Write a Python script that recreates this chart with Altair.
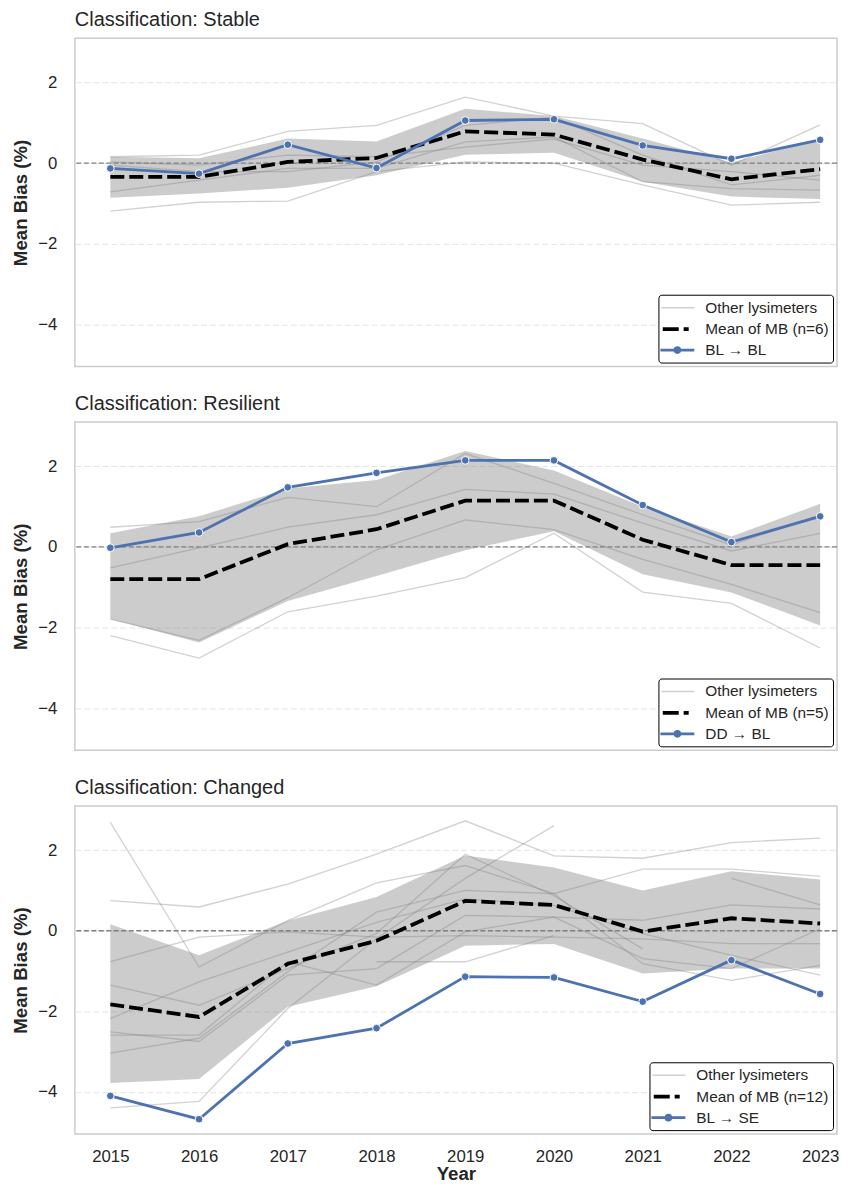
import altair as alt
import pandas as pd

years = [2015, 2016, 2017, 2018, 2019, 2020, 2021, 2022, 2023]

# ---- Stable ----
stable_focus = [-0.13, -0.26, 0.46, -0.12, 1.06, 1.09, 0.44, 0.11, 0.58]
stable_mean = [-0.34, -0.34, 0.03, 0.13, 0.79, 0.71, 0.09, -0.40, -0.15]
stable_lo = [-0.86, -0.75, -0.61, -0.30, 0.21, 0.26, -0.46, -0.83, -0.89]
stable_hi = [0.16, 0.12, 0.61, 0.54, 1.35, 1.17, 0.61, 0.02, 0.59]
stable_others = [
    [0.16, 0.20, 0.79, 0.94, 1.64, 1.17, 0.98, -0.05, 0.95],
    [-1.19, -0.97, -0.94, -0.21, 0.03, 0.00, -0.54, -1.04, -0.97],
    [-0.71, -0.42, -0.13, -0.13, 0.53, 0.65, -0.46, -0.63, -0.67],
    [0.03, -0.05, 0.20, 0.16, 0.40, 0.60, -0.05, -0.21, -0.42],
    [-0.05, -0.21, -0.21, 0.03, 0.94, 1.14, 0.20, -0.54, -0.30],
]

# ---- Resilient ----
resil_focus = [-0.02, 0.36, 1.48, 1.84, 2.15, 2.15, 1.04, 0.12, 0.76]
resil_mean = [-0.80, -0.80, 0.07, 0.44, 1.15, 1.15, 0.18, -0.45, -0.45]
resil_lo = [-1.79, -2.37, -1.34, -0.72, -0.08, 0.39, -0.68, -1.13, -1.95]
resil_hi = [0.34, 0.76, 1.45, 1.66, 2.38, 1.90, 1.00, 0.26, 1.07]
resil_others = [
    [0.49, 0.63, 1.23, 1.00, 2.32, 1.58, 0.80, 0.05, 0.80],
    [-0.52, -0.02, 0.49, 0.80, 1.43, 1.31, 0.59, -0.10, 0.34],
    [-1.79, -2.32, -1.26, -0.07, 0.67, 0.43, -0.31, -0.93, -1.63],
    [-2.20, -2.76, -1.61, -1.22, -0.76, 0.34, -1.12, -1.40, -2.51],
]

# ---- Changed ----
chg_focus = [-4.10, -4.68, -2.80, -2.42, -1.14, -1.16, -1.76, -0.73, -1.57]
chg_mean = [-1.83, -2.14, -0.82, -0.25, 0.74, 0.64, -0.02, 0.31, 0.18]
chg_lo = [-3.78, -3.68, -1.89, -1.38, -0.37, -0.33, -1.06, -0.94, -0.94]
chg_hi = [0.16, -0.61, 0.25, 0.84, 1.87, 1.57, 1.00, 1.48, 1.27]
chg_others = [
    [0.75, 0.59, 1.16, 1.90, 2.73, 1.86, 1.80, 2.19, 2.30],
    [2.69, -0.90, 0.25, 1.19, 1.62, 0.92, 1.53, 1.53, 1.35],
    [-4.40, -4.24, -1.93, -0.20, 1.30, 2.61, None, None, None],
    [-0.77, -0.16, -0.03, -0.16, -0.12, -0.16, -0.20, -0.32, -0.32],
    [-1.35, -1.85, -0.94, -0.07, 1.90, 0.87, -0.45, None, None],
    [-2.18, -1.27, -0.53, 0.21, 0.79, 0.63, -0.07, -0.61, -1.10],
    [-2.51, -2.75, -1.10, -0.94, 0.38, 0.34, 0.26, 0.64, 0.54],
    [-2.59, -2.59, -0.77, -1.35, -0.03, 0.34, -0.69, -0.94, 0.05],
    [-3.04, -2.67, -1.02, 0.46, 1.00, 0.92, -0.82, -1.23, -0.86],
    [None, None, None, -0.77, -0.77, -0.12, None, None, None],
    [None, None, None, None, None, None, None, 1.30, 0.64],
]

y_ticks = [-4, -2, 0, 2]

FONT = "Liberation Sans"
TEXT = "#262626"
BLUE = "#4c72b0"

# legend symbol paths (unit space, scaled by sqrt(symbolSize)/2)
PATH_OTHER = "M-1.375,0H2.75"
PATH_MEAN = "M-1.21,0H0.79M1.41,0H2.04"
PATH_FOCUS = ("M-1.5,0H2.75"
              "M0.925,0A0.3,0.3 0 1 1 0.325,0A0.3,0.3 0 1 1 0.925,0"
              "M0.725,0A0.1,0.1 0 1 1 0.525,0A0.1,0.1 0 1 1 0.725,0")

XDOM = [2014.6, 2023.19]
YDOM = [-5.05, 3.10]
W, H = 764, 329


def panel(title, focus, mean, lo, hi, others, n, focus_label, show_x):
    base = pd.DataFrame({"year": years, "focus": focus, "mean": mean, "lo": lo, "hi": hi})
    rows = []
    for i, ser in enumerate(others):
        for yr, v in zip(years, ser):
            if v is not None:
                rows.append({"year": yr, "value": v, "lys": f"L{i + 1}"})
    oth = pd.DataFrame(rows)
    zero_df = pd.DataFrame({"z": [0]})

    xscale = alt.Scale(domain=XDOM, nice=False, zero=False)
    yscale = alt.Scale(domain=YDOM, nice=False, zero=False)
    if show_x:
        xaxis = alt.Axis(values=years, format="d", title="Year", grid=False,
                         labelPadding=14, titlePadding=0)
    else:
        xaxis = None
    yaxis = alt.Axis(values=y_ticks, title="Mean Bias (%)", grid=True,
                     labelPadding=18, titlePadding=7)

    def X(f):
        return alt.X(f, scale=xscale, axis=xaxis)

    def Y(f):
        return alt.Y(f, scale=yscale, axis=yaxis)

    band = alt.Chart(base).mark_area(color="#808080", opacity=0.4).encode(
        x=X("year:Q"), y=Y("lo:Q"), y2="hi:Q")
    lines = alt.Chart(oth).mark_line(color="#808080", opacity=0.36, strokeWidth=1.3).encode(
        x=X("year:Q"), y=Y("value:Q"), detail="lys:N")
    zero = alt.Chart(zero_df).mark_rule(color="#808080", strokeWidth=1.3, strokeDash=[5, 2.5]).encode(
        y=Y("z:Q"))
    mean_line = alt.Chart(base).mark_line(color="black", strokeWidth=3.8, strokeDash=[14, 5]).encode(
        x=X("year:Q"), y=Y("mean:Q"))
    focus_line = alt.Chart(base).mark_line(color=BLUE, strokeWidth=2.8).encode(
        x=X("year:Q"), y=Y("focus:Q"))
    focus_pts = alt.Chart(base).mark_point(filled=True, color=BLUE, stroke="white", strokeWidth=1,
                                           size=60, opacity=1).encode(
        x=X("year:Q"), y=Y("focus:Q"))

    labels = ["Other lysimeters", f"Mean of MB (n={n})", focus_label]
    leg_df = pd.DataFrame({"series": labels})
    legend_layer = alt.Chart(leg_df).mark_point(filled=False, opacity=1).encode(
        color=alt.Color("series:N", scale=alt.Scale(domain=labels, range=["#d0d0d0", "#000000", BLUE]),
                        legend=alt.Legend(title=None)),
        shape=alt.Shape("series:N", scale=alt.Scale(domain=labels, range=[PATH_OTHER, PATH_MEAN, PATH_FOCUS]),
                        legend=alt.Legend(title=None)),
        strokeWidth=alt.StrokeWidth("series:N", scale=alt.Scale(domain=labels, range=[1.5, 3.8, 2.8], type="ordinal"),
                                    legend=alt.Legend(title=None)),
    ).transform_filter("false")

    return alt.layer(band, lines, zero, mean_line, focus_line, focus_pts, legend_layer).properties(
        width=W, height=H,
        title=alt.TitleParams(title, anchor="start", frame="group", fontSize=20, font=FONT,
                              fontWeight="normal", color=TEXT, offset=8.2))


p1 = panel("Classification: Stable", stable_focus, stable_mean, stable_lo, stable_hi, stable_others,
           6, "BL \u2192 BL", False)
p2 = panel("Classification: Resilient", resil_focus, resil_mean, resil_lo, resil_hi, resil_others,
           5, "DD \u2192 BL", False)
p3 = panel("Classification: Changed", chg_focus, chg_mean, chg_lo, chg_hi, chg_others,
           12, "BL \u2192 SE", True)

chart = alt.vconcat(p1, p2, p3, spacing=25.7).resolve_scale(
    color="independent", shape="independent", strokeWidth="independent",
    x="independent", y="independent"
).resolve_legend(
    color="independent", shape="independent", strokeWidth="independent"
).properties(
    padding={"left": 3, "top": 0, "right": 0, "bottom": 0},
    background="white",
).configure_view(
    stroke="#cccccc", strokeWidth=1.5
).configure_axis(
    labelFont=FONT, titleFont=FONT, labelFontSize=16.8, titleFontSize=18.7, titleFontWeight="bold",
    labelColor=TEXT, titleColor=TEXT, ticks=False, tickSize=0, domain=False,
    gridColor="#e3e3e3", gridDash=[6, 3], gridWidth=1
).configure_legend(
    orient="bottom-right", offset=4, strokeColor="black", fillColor="white", cornerRadius=3,
    padding=4, labelFont=FONT, labelFontSize=15.4, labelColor=TEXT, symbolSize=256,
    labelOffset=23, rowPadding=2.5, labelLimit=300
)

chart.save("out.html", embed_options={"renderer": "svg", "actions": False})
